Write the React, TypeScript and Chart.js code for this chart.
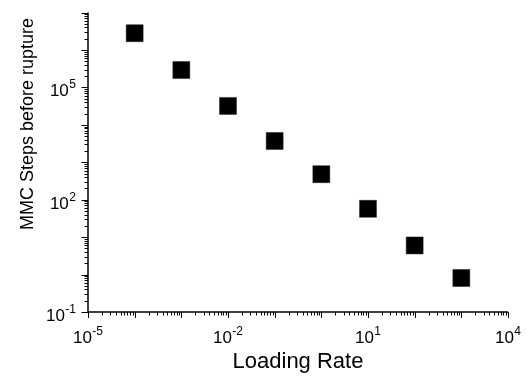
import React, { useEffect, useRef } from "react";
import { Chart, registerables } from "chart.js";

Chart.register(...registerables);

const loadingRate = [1e-4, 1e-3, 1e-2, 1e-1, 1, 10, 100, 1000];
const mmcSteps = [2.8e6, 2.9e5, 3.2e4, 3.7e3, 480, 57, 6.0, 0.81];
const xTickExponents = ["-5", "-2", "1", "4"];
const yTickExponents = ["-1", "2", "5"];
const xTitle = "Loading Rate";
const yTitle = "MMC Steps before rupture";

const X_MIN = 1e-5;
const X_MAX = 1e4;
const Y_MIN = 1e-1;
const Y_MAX = 1e7;

const FONT = '"Liberation Sans", Arial, Helvetica, sans-serif';

const drawPow = (
  ctx: CanvasRenderingContext2D,
  exp: string,
  x: number,
  baseline: number,
  align: "center" | "right"
) => {
  const base = `17px ${FONT}`;
  const sup = `12px ${FONT}`;
  ctx.font = base;
  const w1 = ctx.measureText("10").width;
  ctx.font = sup;
  const w2 = ctx.measureText(exp).width;
  const total = w1 + w2 + 0.5;
  const left = align === "center" ? x - total / 2 : x - total;
  ctx.textAlign = "left";
  ctx.textBaseline = "alphabetic";
  ctx.font = base;
  ctx.fillText("10", left, baseline);
  ctx.font = sup;
  ctx.fillText(exp, left + w1 + 0.5, baseline - 8);
};

const axesPlugin = {
  id: "customAxes",
  afterDraw(chart: any) {
    const ctx: CanvasRenderingContext2D = chart.ctx;
    const xs = chart.scales.x;
    const ys = chart.scales.y;
    const { left, right, top, bottom } = chart.chartArea;
    ctx.save();
    ctx.strokeStyle = "#000";
    ctx.fillStyle = "#000";
    ctx.lineWidth = 1.5;
    ctx.beginPath();
    ctx.moveTo(left, top);
    ctx.lineTo(left, bottom);
    ctx.lineTo(right, bottom);
    ctx.stroke();
    ctx.lineWidth = 1;
    const ticksFor = (min: number, max: number) => {
      const out: { v: number; major: boolean }[] = [];
      const e0 = Math.floor(Math.log10(min));
      const e1 = Math.ceil(Math.log10(max));
      for (let e = e0; e <= e1; e++) {
        for (let m = 1; m <= 9; m++) {
          const v = m * Math.pow(10, e);
          if (v >= min * 0.999 && v <= max * 1.001) out.push({ v, major: m === 1 });
        }
      }
      return out;
    };
    ctx.beginPath();
    for (const t of ticksFor(X_MIN, X_MAX)) {
      const px = Math.round(xs.getPixelForValue(t.v)) + 0.5;
      ctx.moveTo(px, bottom);
      ctx.lineTo(px, bottom + (t.major ? 6 : 3.5));
    }
    for (const t of ticksFor(Y_MIN, Y_MAX)) {
      const py = Math.round(ys.getPixelForValue(t.v)) + 0.5;
      ctx.moveTo(left, py);
      ctx.lineTo(left - (t.major ? 6.5 : 3.5), py);
    }
    ctx.stroke();
    for (const e of xTickExponents) {
      const px = xs.getPixelForValue(Math.pow(10, Number(e)));
      drawPow(ctx, e, px, bottom + 31, "center");
    }
    for (const e of yTickExponents) {
      const py = ys.getPixelForValue(Math.pow(10, Number(e)));
      drawPow(ctx, e, left - 12, py + 9, "right");
    }
    ctx.font = `22px ${FONT}`;
    ctx.textAlign = "center";
    ctx.textBaseline = "middle";
    ctx.fillText(xTitle, (left + right) / 2, 362);
    ctx.save();
    ctx.translate(28, 124);
    ctx.rotate(-Math.PI / 2);
    ctx.font = `18px ${FONT}`;
    ctx.fillText(yTitle, 0, 0);
    ctx.restore();
    ctx.restore();
  },
};

export default function App() {
  const ref = useRef<HTMLCanvasElement | null>(null);
  useEffect(() => {
    if (!ref.current) return;
    const chart = new Chart(ref.current, {
      type: "scatter",
      data: {
        datasets: [
          {
            data: loadingRate.map((x, i) => ({ x, y: mmcSteps[i] })),
            pointStyle: "rect",
            pointRadius: 12,
            pointHoverRadius: 12,
            backgroundColor: "#000",
            borderColor: "#222",
            borderWidth: 0.5,
          },
        ],
      },
      options: {
        animation: false,
        responsive: false,
        events: [],
        layout: { padding: { left: 0, right: 19, top: 10, bottom: 0 } },
        plugins: { legend: { display: false }, tooltip: { enabled: false } },
        scales: {
          x: {
            type: "logarithmic",
            min: X_MIN,
            max: X_MAX,
            grid: { display: false },
            border: { display: false },
            ticks: { display: false },
            afterFit: (s: any) => {
              s.height = 69;
            },
          },
          y: {
            type: "logarithmic",
            min: Y_MIN,
            max: Y_MAX,
            grid: { display: false },
            border: { display: false },
            ticks: { display: false },
            afterFit: (s: any) => {
              s.width = 88;
            },
          },
        },
      },
      plugins: [axesPlugin],
    });
    return () => chart.destroy();
  }, []);
  return (
    <div style={{ position: "fixed", left: 0, top: 0, width: 527, height: 381, background: "#fff" }}>
      <canvas ref={ref} width={527} height={381} style={{ display: "block" }} />
    </div>
  );
}
